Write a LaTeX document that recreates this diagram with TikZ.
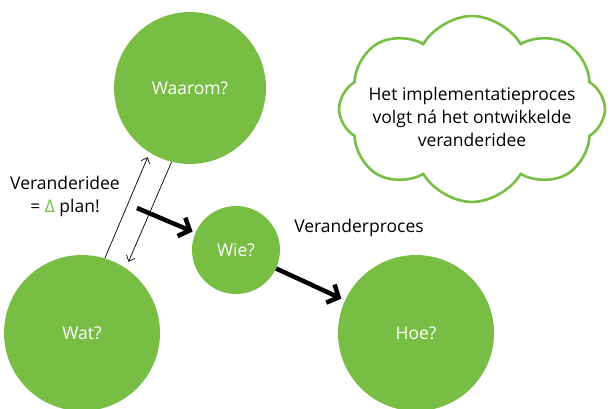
\documentclass[tikz,border=0pt]{standalone}
\usepackage{fontspec}
\setmainfont{Open Sans}
\usetikzlibrary{arrows.meta,positioning,shapes.symbols}
\definecolor{groen}{RGB}{120,190,68}
\tikzset{
  font=\fontsize{17.5}{23}\selectfont,
  bol/.style={
    circle,
    fill=groen,
    text=white,
    inner sep=0pt
  },
  wolk/.style={
    cloud,
    cloud puffs=8,
    cloud puff arc=120,
    cloud ignores aspect,
    draw=groen,
    line width=2.6pt,
    fill=white,
    minimum width=266pt,
    minimum height=186pt,
    inner sep=0pt
  },
  label/.style={
    align=center,
    text=black
  },
  arrow/.style={-{Straight Barb[length=5pt,width=9pt]}, line width=0.7pt},
  thickarrow/.style={-{Straight Barb[length=9pt,width=20pt]}, line width=4.5pt}
}

\begin{document}
\begin{tikzpicture}[x=1pt,y=-1pt]
\useasboundingbox (0,0) rectangle (611,408);

% --- circles
\node[bol, minimum size=152pt] (waarom) at (190,88) {Waarom?};
\node[bol, minimum size=156pt] (wat) at (82,333) {Wat?};
\node[bol, minimum size=88pt] (wie) at (236,250) {Wie?};
\node[bol, minimum size=156pt] (hoe) at (416,333) {Hoe?};

% --- cloud
\node[wolk] (idee) at (472,109) {};
\node[label, yshift=-8pt] (ideetekst) at (idee) {Het implementatieproces\\volgt ná het ontwikkelde\\veranderidee};

% --- labels
\node[label] (plan) at (65,196) {Veranderidee\\= {\color{groen}Δ} plan!};
\node[label] (proces) at (359,228) {Veranderproces};
\coordinate (start) at (137,208);

% --- arrows
\draw[arrow, shorten >=5pt] (wat.73) -- (waarom.238);
\draw[arrow, shorten >=7pt] (waarom.256) -- (wat.56);
\draw[thickarrow, shorten >=3pt] (start) -- (wie);
\draw[thickarrow, shorten >=4pt] (wie) -- (hoe);

\end{tikzpicture}
\end{document}
